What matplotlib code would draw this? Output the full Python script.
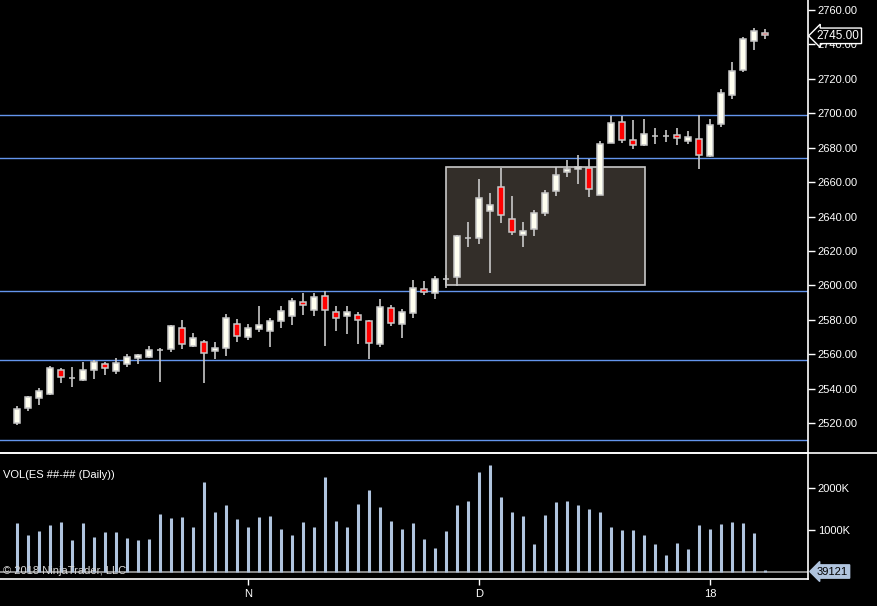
import numpy as np
import matplotlib
matplotlib.use('Agg')
import matplotlib.pyplot as plt
from matplotlib.lines import Line2D
from matplotlib.patches import Rectangle

plt.rcParams['font.family'] = ['Liberation Sans', 'DejaVu Sans']

# daily OHLC, one bar per session
opens = [2520, 2529, 2534.8, 2537.1, 2550.7, 2546, 2545.3, 2550.7, 2554.2, 2550.2,
         2554.2, 2557.7, 2558.7, 2562.7, 2563, 2575.2, 2564.7, 2567, 2561.8, 2563.6,
         2577.5, 2570.3, 2575, 2573.6, 2579.6, 2582, 2590.3, 2586, 2594, 2584.7,
         2582.5, 2582.8, 2579.3, 2566.2, 2586.8, 2577.9, 2584.3, 2597.9, 2595.4, 2604,
         2604.7, 2627.8, 2627.6, 2643.3, 2657.3, 2638.7, 2629.4, 2632.6, 2642.2, 2655,
         2666.1, 2667.8, 2668.4, 2652.7, 2683, 2695.2, 2684.7, 2681.8, 2686.8, 2686.8,
         2687.6, 2684.1, 2684.9, 2675.1, 2693.6, 2710.5, 2725.1, 2742.1, 2746.5]
highs = [2530, 2535.8, 2540.6, 2553.2, 2551.9, 2552.7, 2555.7, 2556.6, 2555.6, 2557.7,
         2560, 2560.4, 2564.9, 2563.7, 2577.1, 2580, 2572.5, 2568.2, 2567.2, 2583.7,
         2580.6, 2577.5, 2588.2, 2581.4, 2588.2, 2593, 2595.9, 2595.4, 2596.9, 2588.2,
         2588.2, 2584.7, 2579.8, 2592.3, 2588.8, 2586.3, 2603.3, 2602.7, 2605.7, 2606,
         2629.5, 2637.1, 2661.6, 2653.6, 2668.4, 2651.7, 2637.1, 2643.9, 2655.2, 2668.7,
         2673, 2675.6, 2673.6, 2683.7, 2698.3, 2698.3, 2695.9, 2696.5, 2691.7, 2690.1,
         2691.4, 2689.5, 2698.8, 2696.5, 2714.4, 2729.7, 2744.1, 2749.3, 2748.8]
lows = [2518.7, 2527, 2530.5, 2536.4, 2543.5, 2541, 2544.5, 2545.9, 2548, 2548.8,
        2552.8, 2554.2, 2558, 2544.1, 2561.6, 2563.3, 2564.5, 2543.5, 2557.5, 2559.2,
        2567.4, 2568.6, 2573.2, 2564.5, 2575.6, 2577.1, 2583, 2582, 2564.9, 2573.6,
        2572, 2566.2, 2557.3, 2564.3, 2576.5, 2569.6, 2581.4, 2594.6, 2591.9, 2598.8,
        2599.8, 2622.1, 2624.1, 2607, 2636.1, 2629.5, 2622.1, 2628.6, 2640.2, 2651.8,
        2662.9, 2659.1, 2651.3, 2652.5, 2683, 2682.7, 2679.5, 2681, 2682, 2683.3,
        2681.6, 2682.4, 2667.6, 2674.6, 2692, 2708.3, 2724.1, 2736.7, 2743.3]
closes = [2528, 2535.2, 2538.7, 2551.9, 2547.0, 2546, 2550.7, 2555.6, 2551.9, 2554.8,
          2558.3, 2559.4, 2562.4, 2562.7, 2576.4, 2565.9, 2569.4, 2560.6, 2563.6, 2581,
          2570.5, 2575.4, 2576.9, 2579.3, 2585.3, 2591.1, 2588.9, 2593.6, 2586, 2581.4,
          2584.7, 2580.2, 2566.8, 2587.6, 2578.5, 2584.5, 2598.5, 2596.5, 2603.7, 2604,
          2628.8, 2627.8, 2650.9, 2646.8, 2641, 2631.1, 2631.7, 2642.2, 2653.8, 2664.3,
          2667.8, 2668.6, 2656.2, 2682.4, 2694.6, 2684.3, 2681.8, 2688.2, 2686.8, 2686.8,
          2685.9, 2686, 2676, 2693.4, 2711.5, 2724.5, 2742.9, 2747.8, 2745.25]
# volume in thousands of contracts
volume_k = [1163, 875, 978, 1115, 1187, 755, 1163, 827, 947, 947, 803, 755, 779,
            1379, 1283, 1307, 1067, 2146, 1427, 1595, 1259, 1067, 1307, 1331, 1019, 875,
            1187, 1067, 2266, 1211, 1067, 1619, 1954, 1547, 1211, 1019, 1163, 779, 563,
            971, 1595, 1691, 2386, 2554, 1787, 1427, 1331, 659, 1355, 1667, 1691, 1595,
            1499, 1427, 1067, 995, 995, 875, 659, 396, 683, 540, 1115, 1019, 1139,
            1187, 1163, 923, 39.121]

level_lines = [2698.85, 2673.9, 2596.6, 2556.7, 2510.1]
box_bars = [39, 57.1]
box_prices = [2600.3, 2668.8]

month_idx = [21, 42, 63]
month_labels = ['N', 'D', '18']
price_ticks = np.arange(2520, 2761, 20)
vol_ticks = [1000, 2000]

last_price = 2745.00
last_volume = 39121

x = np.arange(len(opens))
o = np.array(opens); h = np.array(highs); l = np.array(lows); c = np.array(closes)
vol = np.array(volume_k) * 1000

fig = plt.figure(figsize=(8.77, 6.06), dpi=100, facecolor='black')
ax = fig.add_axes([0, 0.2530, 0.9213, 0.7470], facecolor='black')
axv = fig.add_axes([0, 0.04455, 0.9213, 0.2084], facecolor='black')

fg = 'white'
wick = '#c8c8c8'

# support / resistance lines
for lv in level_lines:
    ax.axhline(lv, color='#6495ed', lw=1.0, zorder=1)

# shaded zone
ax.add_patch(Rectangle((box_bars[0], box_prices[0]), box_bars[1] - box_bars[0],
                       box_prices[1] - box_prices[0], facecolor='#332e29',
                       edgecolor='#c8c8c8', lw=1.2, zorder=2))

# candles
ax.vlines(x, l, h, color=wick, lw=1.2, zorder=3)
up = c >= o
body_lo = np.minimum(o, c)
body_h = np.abs(c - o)
colors = np.where(up, '#fffff0', '#ff0000')
ax.bar(x, body_h, bottom=body_lo, width=0.6, color=colors, edgecolor=wick,
       linewidth=1.1, zorder=4)

ax.set_xlim(-17 / 11, (808 - 17) / 11)
ax.set_ylim(2502.9, 2765.8)
ax.yaxis.tick_right()
ax.set_yticks(price_ticks)
ax.set_yticklabels(['%.2f' % t for t in price_ticks])
ax.tick_params(axis='y', colors=fg, labelsize=8, length=5, width=1, pad=2)
ax.set_xticks([])
for s in ['top', 'left', 'bottom']:
    ax.spines[s].set_visible(False)
ax.spines['right'].set_color(fg)
ax.spines['right'].set_linewidth(1.2)

ax.text(1.011, last_price, '%.2f' % last_price, transform=ax.get_yaxis_transform(),
        color=fg, fontsize=8.5, va='center', ha='left',
        bbox=dict(boxstyle='larrow,pad=0.15', fc='black', ec='white', lw=1))

# volume pane
axv.axhline(0, color='#a0a0a0', lw=1.2, zorder=1)
axv.vlines(x, 0, vol, color='#b0c4de', lw=2.2, zorder=2)
axv.set_xlim(ax.get_xlim())
axv.set_ylim(-180000, 2852000)
axv.yaxis.tick_right()
axv.set_yticks([v * 1000 for v in vol_ticks])
axv.set_yticklabels(['%dK' % v for v in vol_ticks])
axv.tick_params(axis='y', colors=fg, labelsize=8, length=5, width=1, pad=2)
axv.set_xticks(month_idx)
axv.set_xticklabels(month_labels)
axv.tick_params(axis='x', colors=fg, labelsize=8, length=4, width=1, pad=3)
axv.spines['left'].set_visible(False)
for s in ['top', 'right', 'bottom']:
    axv.spines[s].set_color(fg)
    axv.spines[s].set_linewidth(1.2)

axv.text(0.004, 0.82, 'VOL(ES ##-## (Daily))', transform=axv.transAxes,
         color=fg, fontsize=8, va='center', ha='left')
axv.text(0.004, 0.06, '\u00a9 2018 NinjaTrader, LLC', transform=axv.transAxes,
         color='#d8d8d8', fontsize=8, va='center', ha='left')
axv.text(1.011, 0, str(last_volume), transform=axv.get_yaxis_transform(),
         color='black', fontsize=8, va='center', ha='left',
         bbox=dict(boxstyle='larrow,pad=0.15', fc='#b0c4de', ec='#b0c4de', lw=1))

# separator across the full width
fig.add_artist(Line2D([0, 1], [0.2530, 0.2530], color=fg, lw=1.2,
                      transform=fig.transFigure))

fig.savefig('out.png', dpi=100, facecolor='black')
